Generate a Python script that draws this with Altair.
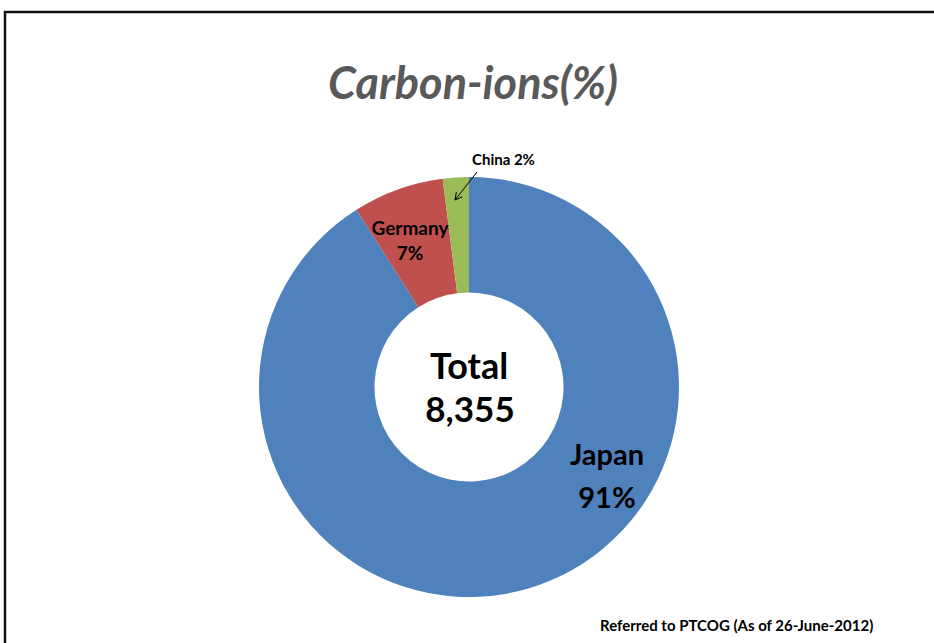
import altair as alt
import pandas as pd

# ---- data ----
countries = ["Japan", "Germany", "China"]
shares = [91, 7, 2]
colors = ["#4F81BD", "#C0504D", "#9BBB59"]
total_label = "8,355"
title_text = "Carbon-ions(%)"
source_text = "Referred to PTCOG (As of 26-June-2012)"

df = pd.DataFrame({"country": countries, "share": shares, "order": list(range(len(countries)))})

W, H = 934, 643
CX, CY = 469, 387
FONT = "Lato"

pie = alt.Chart(df).mark_arc(innerRadius=94.5, outerRadius=210).encode(
    theta=alt.Theta("share:Q", stack=True),
    color=alt.Color("country:N", scale=alt.Scale(domain=countries, range=colors), legend=None),
    order=alt.Order("order:Q"),
    x=alt.value(CX),
    y=alt.value(CY),
)

one = pd.DataFrame({"d": [0]})


def txt(text, x, y, size, align="center", color="#000000", italic=False, weight="bold"):
    kw = dict(text=text, fontSize=size, font=FONT, fontWeight=weight, align=align,
              baseline="alphabetic", color=color)
    if italic:
        kw["fontStyle"] = "italic"
    return alt.Chart(one).mark_text(**kw).encode(x=alt.value(x), y=alt.value(y))


def seg(x1, y1, x2, y2, width=1.0, color="#000000"):
    return alt.Chart(one).mark_rule(color=color, strokeWidth=width).encode(
        x=alt.value(x1), y=alt.value(y1), x2=alt.value(x2), y2=alt.value(y2))


frame = alt.Chart(one).mark_rect(fill=None, stroke="#111111", strokeWidth=2.5).encode(
    x=alt.value(5), x2=alt.value(W + 10), y=alt.value(12), y2=alt.value(H + 10))

layers = [
    frame,
    pie,
    txt(title_text, 473, 99, 45, color="#595959", italic=True),
    txt("Total", CX, 379, 36),
    txt(total_label, CX + 1, 422, 35),
    txt(countries[0], 607, 465, 29),
    txt(f"{shares[0]}%", 607, 508, 29),
    txt(countries[1], 410, 235, 19),
    txt(f"{shares[1]}%", 410, 260, 19),
    txt(f"{countries[2]} {shares[2]}%", 472, 165, 15, align="left"),
    seg(477, 172, 455, 200),
    seg(455, 200, 462.3, 196.8),
    seg(455, 200, 456.4, 192.1),
    txt(source_text, 600, 631, 15, align="left"),
]

chart = alt.layer(*layers).properties(
    width=W, height=H,
    autosize=alt.AutoSizeParams(type="none"),
    padding=0,
    background="white",
).configure_view(stroke=None)

chart.save("out.html", embed_options={"renderer": "svg", "actions": False})
